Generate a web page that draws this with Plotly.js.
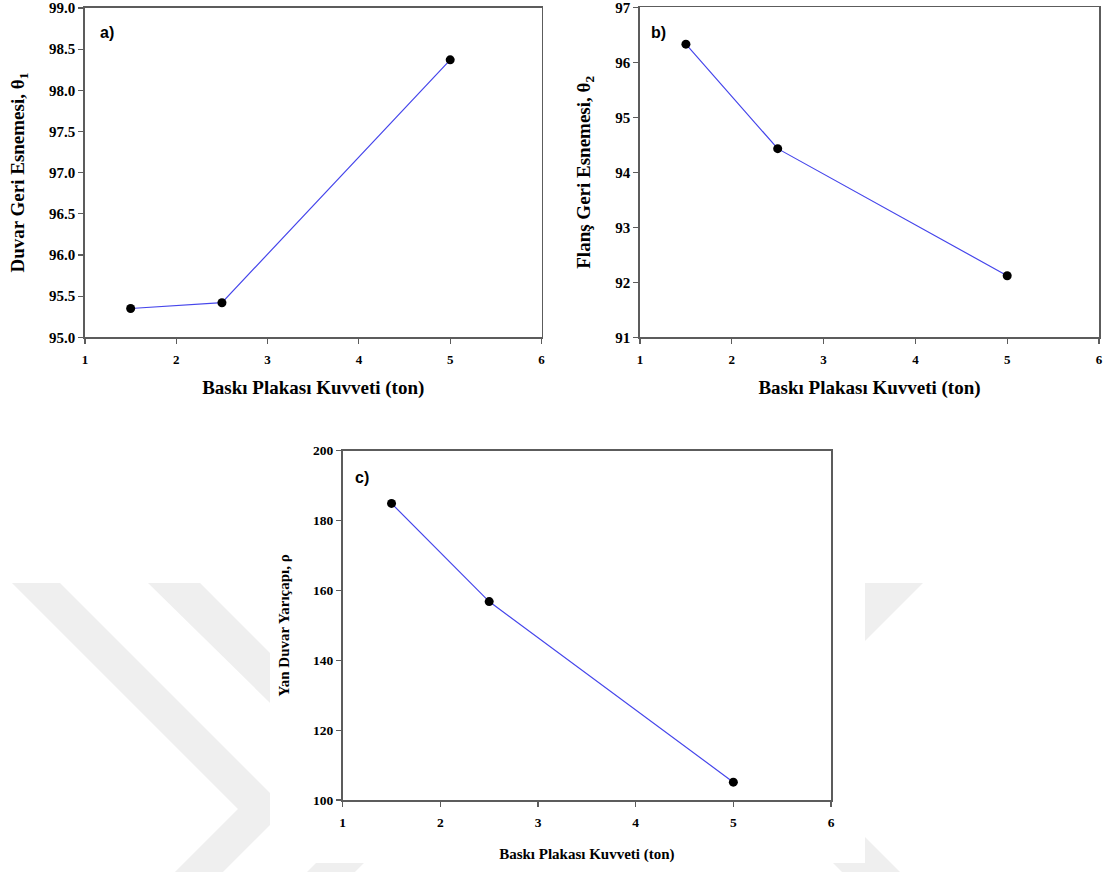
<!DOCTYPE html>
<html>
<head>
<meta charset="utf-8">
<script src="https://cdn.plot.ly/plotly-3.0.1.min.js"></script>
<style>
  html, body { margin: 0; padding: 0; background: #ffffff; }
  #chart { width: 1108px; height: 872px; }
</style>
</head>
<body>
<div id="chart"></div>
<script>
// Blank holder force (ton) shared by all three panels
const force = [1.5, 2.5, 5];

// a) wall springback angle θ1
const wallSpringback = [95.35, 95.42, 98.37];
// b) flange springback angle θ2
const flangeSpringback = [96.33, 94.43, 92.12];
// c) side wall curl radius ρ
const sideWallRadius = [184.9, 156.8, 105.1];

const xTicks = [1, 2, 3, 4, 5, 6];
const yTicksA = [95.0, 95.5, 96.0, 96.5, 97.0, 97.5, 98.0, 98.5, 99.0];
const yTicksB = [91, 92, 93, 94, 95, 96, 97];
const yTicksC = [100, 120, 140, 160, 180, 200];

const xTitle = 'Baskı Plakası Kuvveti (ton)';
const yTitleA = 'Duvar Geri Esnemesi, θ<sub>1</sub>';
const yTitleB = 'Flanş Geri Esnemesi, θ<sub>2</sub>';
const yTitleC = 'Yan Duvar Yarıçapı, ρ';
const panelLabels = ['a)', 'b)', 'c)'];

const W = 1108, H = 872;
const SERIF = "'Liberation Serif', 'Times New Roman', serif";
const SANS = "'Liberation Sans', Arial, sans-serif";
const AXIS_COLOR = '#5c5c5c';
const LINE_COLOR = 'rgb(70,70,235)';

function trace(y, xa, ya) {
  return {
    x: force, y: y, xaxis: xa, yaxis: ya,
    type: 'scatter', mode: 'lines+markers',
    line: { color: LINE_COLOR, width: 1.2 },
    marker: { color: '#000000', size: 9 },
    hoverinfo: 'x+y'
  };
}

function xAxis(domain, anchor, tickSize, titleSize, standoff) {
  return {
    domain: domain, anchor: anchor, range: [1, 6],
    tickvals: xTicks, ticktext: xTicks.map(String),
    ticks: 'outside', ticklen: 5, tickwidth: 1.2, tickcolor: AXIS_COLOR,
    ticklabelstandoff: 4, ticklabeloverflow: 'allow',
    showline: true, linecolor: AXIS_COLOR, linewidth: 1.8, mirror: true,
    showgrid: false, zeroline: false, automargin: false,
    tickfont: { family: SERIF, size: tickSize, color: '#000', weight: 'bold' },
    title: { text: xTitle, standoff: standoff,
             font: { family: SERIF, size: titleSize, color: '#000', weight: 'bold' } }
  };
}

function yAxis(domain, anchor, range, ticks, fmt, title, tickSize, titleSize, standoff) {
  return {
    domain: domain, anchor: anchor, range: range,
    tickvals: ticks, ticktext: ticks.map(v => v.toFixed(fmt)),
    ticks: 'outside', ticklen: 5, tickwidth: 1.2, tickcolor: AXIS_COLOR,
    ticklabeloverflow: 'allow',
    showline: true, linecolor: AXIS_COLOR, linewidth: 1.8, mirror: true,
    showgrid: false, zeroline: false, automargin: false,
    tickfont: { family: SERIF, size: tickSize, color: '#000', weight: 'bold' },
    title: { text: title, standoff: standoff,
             font: { family: SERIF, size: titleSize, color: '#000', weight: 'bold' } }
  };
}

// pixel helpers for a zero-margin page
const px = v => v / W;
const py = v => 1 - v / H;
function pathFrom(points) {
  return 'M ' + points.map(p => px(p[0]).toFixed(5) + ',' + py(p[1]).toFixed(5)).join(' L ') + ' Z';
}

// faint chevron bands in the page background
const bandColor = '#efefef';
const bands = [
  [[12, 583], [60, 583], [286, 809], [223, 872], [175, 872], [238, 809]],
  [[148, 583], [200, 583], [422, 805], [355, 872], [307, 872], [374, 805]],
  [[865, 583], [923, 583], [767, 739], [900, 872], [842, 872], [709, 739]]
];
const shapes = bands.map(b => ({
  type: 'path', xref: 'paper', yref: 'paper', layer: 'below',
  path: pathFrom(b), fillcolor: bandColor, line: { width: 0 }
}));
// white card behind the lower panel
shapes.push({
  type: 'rect', xref: 'paper', yref: 'paper', layer: 'below',
  x0: px(270), x1: px(865), y0: py(863), y1: py(430),
  fillcolor: '#ffffff', line: { width: 0 }
});

const data = [
  trace(wallSpringback, 'x', 'y'),
  trace(flangeSpringback, 'x2', 'y2'),
  trace(sideWallRadius, 'x3', 'y3')
];

const layout = {
  width: W, height: H,
  margin: { l: 0, r: 0, t: 0, b: 0, pad: 0 },
  paper_bgcolor: '#ffffff', plot_bgcolor: '#ffffff',
  showlegend: false,
  xaxis: xAxis([px(85), px(541.5)], 'y', 13, 19, 15),
  yaxis: yAxis([py(337.3), py(8)], 'x', [95, 99], yTicksA, 1, yTitleA, 15, 19, 19),
  xaxis2: xAxis([px(640), px(1099)], 'y2', 13, 19, 15),
  yaxis2: yAxis([py(337.3), py(7.3)], 'x2', [91, 97], yTicksB, 0, yTitleB, 15, 19, 19),
  xaxis3: xAxis([px(342.7), px(831)], 'y3', 13.5, 15, 19),
  yaxis3: yAxis([py(800), py(450.7)], 'x3', [100, 200], yTicksC, 0, yTitleC, 13.5, 15, 20),
  annotations: [
    { text: panelLabels[0], xref: 'x domain', yref: 'y domain', x: 0.028, y: 0.956 },
    { text: panelLabels[1], xref: 'x2 domain', yref: 'y2 domain', x: 0.020, y: 0.956 },
    { text: panelLabels[2], xref: 'x3 domain', yref: 'y3 domain', x: 0.021, y: 0.952 }
  ].map(a => Object.assign(a, {
    xanchor: 'left', yanchor: 'top', showarrow: false,
    font: { family: SANS, size: 16, color: '#000', weight: 'bold' }
  })),
  shapes: shapes
};

Plotly.newPlot('chart', data, layout, { displayModeBar: false, staticPlot: true });
</script>
</body>
</html>
